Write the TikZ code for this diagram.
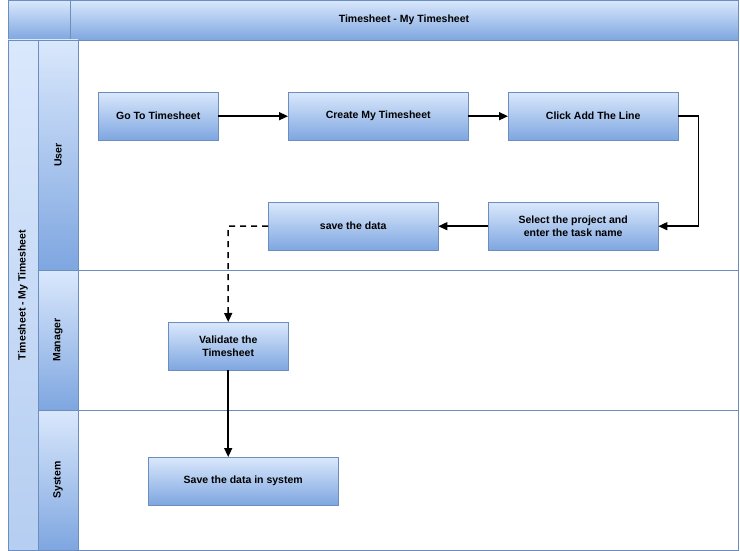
\documentclass[tikz,border=0pt]{standalone}
\usepackage{fontspec}
\setmainfont{Liberation Sans}
\usetikzlibrary{arrows.meta,positioning}
\definecolor{laneTop}{HTML}{DAE8FC}
\definecolor{laneBot}{HTML}{7EA6E0}
\definecolor{laneLine}{HTML}{6C8EBF}
\tikzset{
  blue box/.style={draw=laneLine, top color=laneTop, bottom color=laneBot},
  task/.style={blue box, anchor=north west, font=\fontsize{10.5}{12.5}\selectfont\bfseries, align=center, inner sep=0pt},
  flow/.style={-{Triangle[length=9pt,width=8pt]}, line width=1.5pt}
}
\begin{document}
\begin{tikzpicture}[x=1pt,y=-1pt]
    \useasboundingbox (0,0) rectangle (740,551);
    % pool and lanes
    \draw[blue box] (8,0) rectangle (738,40);
    \draw[laneLine] (70,0) -- (70,40);
    \node[font=\fontsize{10.5}{12}\selectfont\bfseries] (title) at (404,20) {Timesheet - My Timesheet};
    \draw[blue box, top color=laneTop, bottom color=laneTop!60!laneBot] (8,40) rectangle (38,550);
    \node[rotate=90, font=\fontsize{10.5}{12}\selectfont\bfseries] (pool) at (23,295) {Timesheet - My Timesheet};
    \draw[blue box] (38,40) rectangle (78,270);
    \draw[blue box] (38,270) rectangle (78,410);
    \draw[blue box] (38,410) rectangle (78,550);
    \draw[laneLine] (78,40) rectangle (738,550);
    \draw[laneLine] (78,270) -- (738,270);
    \draw[laneLine] (78,410) -- (738,410);
    \node[rotate=90, font=\fontsize{10.5}{12}\selectfont\bfseries] (user) at (58,155) {User};
    \node[rotate=90, font=\fontsize{10.5}{12}\selectfont\bfseries] (manager) at (58,340) {Manager};
    \node[rotate=90, font=\fontsize{10.5}{12}\selectfont\bfseries] (system) at (58,480) {System};

    % steps
    \node[task, minimum width=120, minimum height=48] (GoTo) at (98,92) {Go To Timesheet};
    \node[task, minimum width=180, minimum height=48] (Create) at (288,92) {Create My Timesheet};
    \node[task, minimum width=170, minimum height=48] (AddLine) at (508,92) {Click Add The Line};
    \node[task, minimum width=170, minimum height=48] (Select) at (488,202) {Select the project and\\enter the task name};
    \node[task, minimum width=170, minimum height=48] (SaveData) at (268,202) {save the data};
    \node[task, minimum width=120, minimum height=48] (Validate) at (168,322) {Validate the\\Timesheet};
    \node[task, minimum width=190, minimum height=48] (SaveSys) at (148,457) {Save the data in system};

    % connectors
    \draw[flow] (GoTo) -- (Create);
    \draw[flow] (Create) -- (AddLine);
    \draw[flow] (AddLine.east) -- ++(20,0) |- (Select.east);
    \draw[flow] (Select) -- (SaveData);
    \draw[flow, dashed, dash pattern=on 6pt off 5pt] (SaveData.west) -- ++(-40,0) -- (Validate.north);
    \draw[flow] (Validate.south) -- (Validate.south |- SaveSys.north);
\end{tikzpicture}
\end{document}
